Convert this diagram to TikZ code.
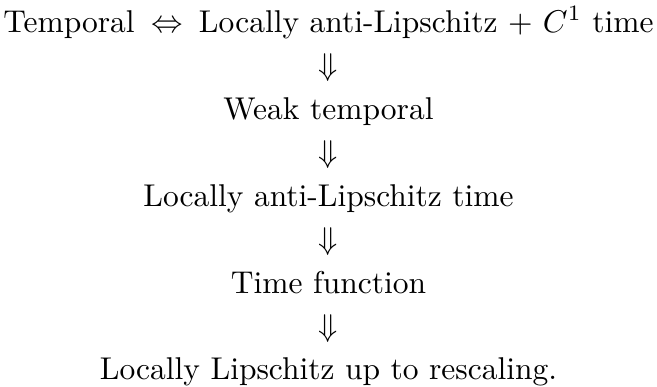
\documentclass[tikz,border=0pt]{standalone}
\usepackage{amsmath, amssymb}
\usepackage{tikz}
\usetikzlibrary{positioning, calc}

\begin{document}
\begin{tikzpicture}[node distance=27.6pt, on grid,
    prop/.style={inner sep=0pt, text height=6.94pt, text depth=1.94pt}]
      \node[prop] (temp) {Temporal};
      \node[prop, right=20pt of temp.east, anchor=west] (alc) {Locally anti-Lipschitz $+$ $C^1$ time};
      \coordinate (axis) at ($(temp.west)!0.5!(alc.east)$);
      \node[prop] (weak) at ([yshift=-27.6pt]axis) {Weak temporal};
      \node[prop, below=of weak] (alt) {Locally anti-Lipschitz time};
      \node[prop, below=of alt] (time) {Time function};
      \node[prop, below=of time] (lip) {Locally Lipschitz up to rescaling.};
      \path (temp.east) -- node[prop] {$\Leftrightarrow$} (alc.west)
            (axis) -- node[prop] {$\Downarrow$} (weak.center)
            (weak) -- node[prop] {$\Downarrow$} (alt)
            (alt) -- node[prop] {$\Downarrow$} (time)
            (time) -- node[prop] {$\Downarrow$} (lip);
      \useasboundingbox ([shift={(-104.3pt,7.75pt)}]axis) rectangle ([shift={(104.3pt,-114.8pt)}]axis);
    \end{tikzpicture}
\end{document}
